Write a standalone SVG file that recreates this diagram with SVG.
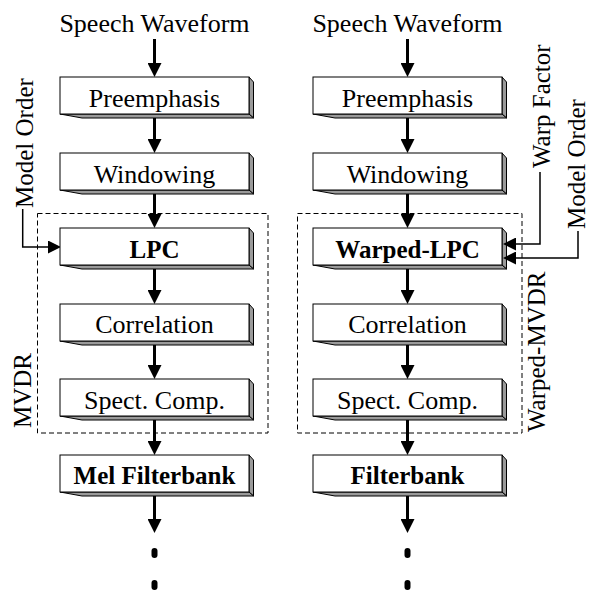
<svg xmlns="http://www.w3.org/2000/svg" width="591" height="590" viewBox="0 0 591 590">
<style>
text{font-family:"Liberation Serif","Times New Roman",serif;fill:#000}
.lbl{font-size:26px;text-anchor:middle}
.b{font-weight:bold;font-size:25px}
.rot{font-size:25px}
.box{fill:#fff;stroke:#000;stroke-width:1}
.face{fill:#9a9a9a;stroke:#000;stroke-width:1;stroke-linejoin:round}
.thick{fill:none;stroke:#000;stroke-width:3}
.thin{fill:none;stroke:#000;stroke-width:1.5}
.dash{fill:none;stroke:#000;stroke-width:1;stroke-dasharray:5,3}
.dot{fill:#000}
</style>
<defs>
<marker id="ah" markerUnits="userSpaceOnUse" markerWidth="14" markerHeight="14" refX="0" refY="7" orient="auto">
<path d="M0,0 L14,7 L0,14 z" fill="#000"/>
</marker>
<marker id="ahs" markerUnits="userSpaceOnUse" markerWidth="13" markerHeight="13" refX="0" refY="6.5" orient="auto">
<path d="M0,0 L13,6.5 L0,13 z" fill="#000"/>
</marker>
<g id="b3d">
<polygon class="face" points="189,0 193.5,5 193.5,41 189,37"/>
<polygon class="face" points="0,37 189,37 193.5,41 22,41"/>
<rect class="box" x="0" y="0" width="189" height="37"/>
</g>
</defs>

<g id="groups">
<rect id="mvdr-group" class="dash" x="37.5" y="213.5" width="230.5" height="219.5"/>
<rect id="wmvdr-group" class="dash" x="297.5" y="213.5" width="224.5" height="219.5"/>
<text class="rot" transform="translate(31,428) rotate(-90)">MVDR</text>
<text class="rot" transform="translate(545,432) rotate(-90)">Warped-MVDR</text>
</g>

<g id="connectors">
<path class="thick" d="M154.5,39 V63" marker-end="url(#ah)"/>
<path class="thick" d="M154.5,114 V139" marker-end="url(#ah)"/>
<path class="thick" d="M154.5,190 V214" marker-end="url(#ah)"/>
<path class="thick" d="M154.5,265 V290" marker-end="url(#ah)"/>
<path class="thick" d="M154.5,341 V365" marker-end="url(#ah)"/>
<path class="thick" d="M154.5,416 V441" marker-end="url(#ah)"/>
<path class="thick" d="M154.5,492 V519" marker-end="url(#ah)"/>
<path class="thick" d="M407.5,39 V63" marker-end="url(#ah)"/>
<path class="thick" d="M407.5,114 V139" marker-end="url(#ah)"/>
<path class="thick" d="M407.5,190 V214" marker-end="url(#ah)"/>
<path class="thick" d="M407.5,265 V290" marker-end="url(#ah)"/>
<path class="thick" d="M407.5,341 V365" marker-end="url(#ah)"/>
<path class="thick" d="M407.5,416 V441" marker-end="url(#ah)"/>
<path class="thick" d="M407.5,492 V519" marker-end="url(#ah)"/>
<path class="thin" d="M22.7,209 V247 H48" marker-end="url(#ahs)"/>
<rect class="dot" x="151.5" y="548" width="6" height="10" rx="3"/>
<rect class="dot" x="151.5" y="580" width="6" height="10" rx="3"/>
<rect class="dot" x="404.5" y="548" width="6" height="10" rx="3"/>
<rect class="dot" x="404.5" y="580" width="6" height="10" rx="3"/>
</g>

<g id="inputs">
<text id="in-left" class="lbl" x="154.5" y="32">Speech Waveform</text>
<text id="in-right" class="lbl" x="407.5" y="32">Speech Waveform</text>
<text id="mo-left" class="rot" transform="translate(33,208) rotate(-90)">Model Order</text>
<text id="wf-right" class="rot" transform="translate(550,168) rotate(-90)">Warp Factor</text>
<text id="mo-right" class="rot" transform="translate(585,229) rotate(-90)">Model Order</text>
</g>

<g id="L-pre"><use href="#b3d" x="60" y="77"/><text class="lbl" x="154.5" y="107">Preemphasis</text></g>
<g id="L-win"><use href="#b3d" x="60" y="153"/><text class="lbl" x="154.5" y="183">Windowing</text></g>
<g id="L-lpc"><use href="#b3d" x="60" y="228"/><text class="lbl b" x="154.5" y="258">LPC</text></g>
<g id="L-cor"><use href="#b3d" x="60" y="304"/><text class="lbl" x="154.5" y="333">Correlation</text></g>
<g id="L-spc"><use href="#b3d" x="60" y="379"/><text class="lbl" x="154.5" y="409">Spect. Comp.</text></g>
<g id="L-mel"><use href="#b3d" x="60" y="455"/><text class="lbl b" x="154.5" y="484">Mel Filterbank</text></g>

<g id="R-pre"><use href="#b3d" x="313" y="77"/><text class="lbl" x="407.5" y="107">Preemphasis</text></g>
<g id="R-win"><use href="#b3d" x="313" y="153"/><text class="lbl" x="407.5" y="183">Windowing</text></g>
<g id="R-wlpc"><use href="#b3d" x="313" y="228"/><text class="lbl b" x="407.5" y="258">Warped-LPC</text></g>
<g id="R-cor"><use href="#b3d" x="313" y="304"/><text class="lbl" x="407.5" y="333">Correlation</text></g>
<g id="R-spc"><use href="#b3d" x="313" y="379"/><text class="lbl" x="407.5" y="409">Spect. Comp.</text></g>
<g id="R-fb"><use href="#b3d" x="313" y="455"/><text class="lbl b" x="407.5" y="484">Filterbank</text></g>

<g id="side-connectors">
<path class="thin" d="M540,172 V244 H516" marker-end="url(#ahs)"/>
<path class="thin" d="M578,231 V258 H516" marker-end="url(#ahs)"/>
</g>
</svg>
